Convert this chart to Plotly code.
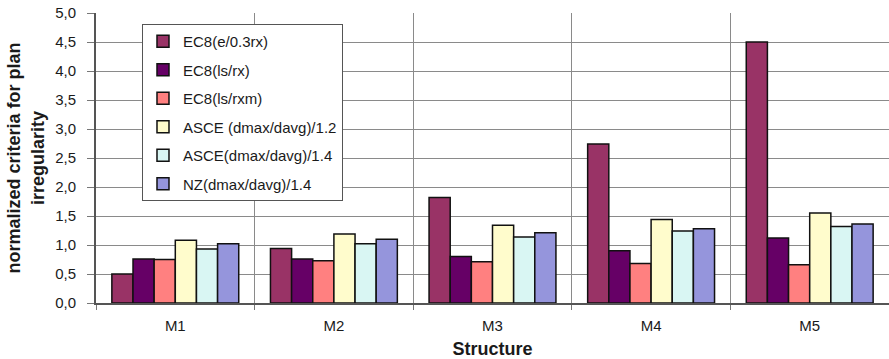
import plotly.graph_objects as go

# Structures compared
structures = ["M1", "M2", "M3", "M4", "M5"]

# Normalized plan-irregularity criteria per structure
ec8_e_03rx = [0.50, 0.94, 1.82, 2.74, 4.50]
ec8_ls_rx = [0.76, 0.76, 0.80, 0.90, 1.12]
ec8_ls_rxm = [0.75, 0.73, 0.71, 0.68, 0.66]
asce_12 = [1.08, 1.19, 1.34, 1.44, 1.55]
asce_14 = [0.93, 1.02, 1.14, 1.24, 1.32]
nz_14 = [1.02, 1.10, 1.21, 1.28, 1.36]

series = [
    ("EC8(e/0.3rx)", ec8_e_03rx, "#993366"),
    ("EC8(ls/rx)", ec8_ls_rx, "#660066"),
    ("EC8(ls/rxm)", ec8_ls_rxm, "#FF8080"),
    ("ASCE (dmax/davg)/1.2", asce_12, "#FFFCCC"),
    ("ASCE(dmax/davg)/1.4", asce_14, "#D9F6F3"),
    ("NZ(dmax/davg)/1.4", nz_14, "#9595DC"),
]

fig = go.Figure()
for i, (name, vals, color) in enumerate(series):
    fig.add_trace(go.Bar(
        x=structures, y=vals, name=name, legendgroup=f"g{i}",
        marker=dict(color=color, line=dict(color="#111111", width=1.5)),
    ))

font_family = "Liberation Sans, Arial, sans-serif"

fig.update_layout(
    width=889, height=359,
    margin=dict(l=96, r=0, t=13, b=56, autoexpand=False),
    paper_bgcolor="white", plot_bgcolor="white",
    separators=",.",
    barmode="group", bargap=0.2, bargroupgap=0,
    font=dict(family=font_family, size=15, color="#1a1a1a"),
    showlegend=True,
    legend=dict(
        x=0.058, y=0.962, xanchor="left", yanchor="top",
        bgcolor="white", bordercolor="#555555", borderwidth=1,
        font=dict(size=15, color="#1a1a1a"),
        tracegroupgap=6, itemwidth=30,
    ),
    xaxis=dict(
        tickson="boundaries", showgrid=True, gridcolor="#8a8a8a", gridwidth=1.3,
        ticks="outside", ticklen=5, tickcolor="#777777",
        showline=True, linecolor="#555555", linewidth=2,
        tickfont=dict(size=15), ticklabelstandoff=8,
        automargin=False,
        title=dict(text="<b>Structure</b>", font=dict(size=18), standoff=9),
    ),
    yaxis=dict(
        range=[0, 5], dtick=0.5, tickformat=".1f",
        showgrid=True, gridcolor="#8a8a8a", gridwidth=1.3,
        ticks="outside", ticklen=7, tickcolor="#777777",
        showline=True, linecolor="#555555", linewidth=2,
        tickfont=dict(size=15), ticklabelstandoff=8, zeroline=False,
        automargin=False,
        title=dict(text="<b>normalized criteria for plan<br>irregularity</b>",
                   font=dict(size=18), standoff=6),
    ),
)

fig.write_html("out.html")
